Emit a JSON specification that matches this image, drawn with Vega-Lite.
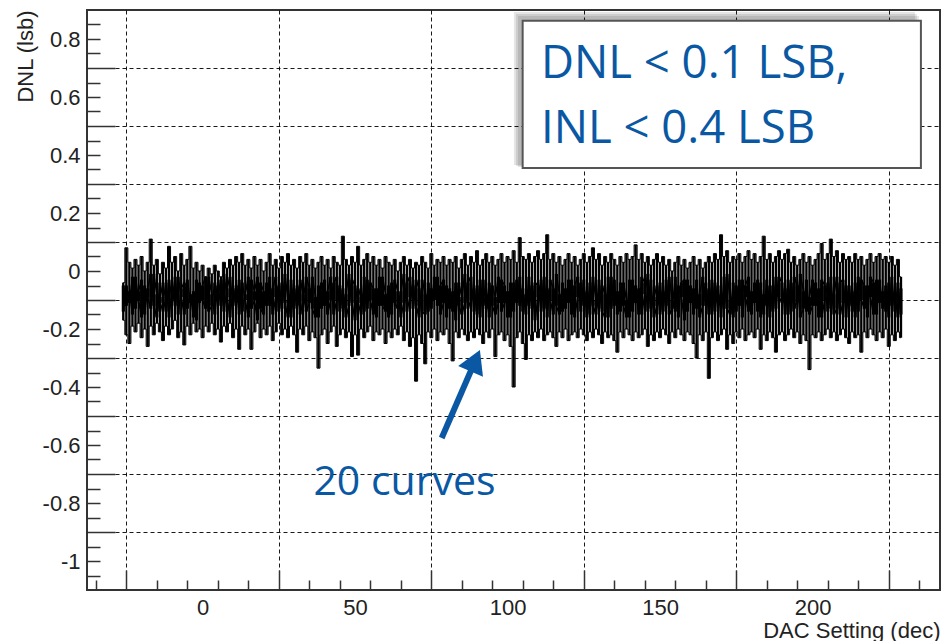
{
"$schema": "https://vega.github.io/schema/vega-lite/v6.json",
"width": 853, "height": 580, "autosize": "none",
"padding": {"left": 87, "top": 10, "right": 6, "bottom": 51},
"background": "white",
"config": {"view": {"stroke": "#333", "strokeWidth": 2}},
"datasets": {
"env": [
{"x":-26,"h":-0.04,"l":-0.17,"a":-0.05,"b":-0.14},
{"x":-25,"h":0.08,"l":-0.22,"a":-0.12,"b":-0.05},
{"x":-24,"h":0.03,"l":-0.25,"a":-0.07,"b":-0.11},
{"x":-23,"h":0.01,"l":-0.19,"a":-0.15,"b":-0.02},
{"x":-22,"h":0.04,"l":-0.21,"a":-0.02,"b":-0.13},
{"x":-21,"h":0.02,"l":-0.18,"a":-0.10,"b":-0.07},
{"x":-20,"h":0.05,"l":-0.23,"a":-0.16,"b":-0.03},
{"x":-19,"h":0.0,"l":-0.20,"a":-0.05,"b":-0.15},
{"x":-18,"h":0.03,"l":-0.26,"a":-0.09,"b":-0.06},
{"x":-17,"h":0.11,"l":-0.19,"a":-0.13,"b":-0.01},
{"x":-16,"h":0.02,"l":-0.22,"a":-0.01,"b":-0.12},
{"x":-15,"h":0.04,"l":-0.18,"a":-0.08,"b":-0.16},
{"x":-14,"h":-0.01,"l":-0.21,"a":-0.14,"b":-0.04},
{"x":-13,"h":0.03,"l":-0.24,"a":-0.11,"b":-0.09},
{"x":-12,"h":0.01,"l":-0.19,"a":-0.04,"b":-0.14},
{"x":-11,"h":0.085,"l":-0.22,"a":-0.16,"b":-0.03},
{"x":-10,"h":0.03,"l":-0.20,"a":-0.06,"b":-0.10},
{"x":-9,"h":0.05,"l":-0.17,"a":-0.12,"b":-0.02},
{"x":-8,"h":0.0,"l":-0.23,"a":-0.02,"b":-0.15},
{"x":-7,"h":0.06,"l":-0.21,"a":-0.09,"b":-0.06},
{"x":-6,"h":0.02,"l":-0.255,"a":-0.15,"b":-0.04},
{"x":-5,"h":0.04,"l":-0.19,"a":-0.03,"b":-0.13},
{"x":-4,"h":0.085,"l":-0.22,"a":-0.11,"b":-0.08},
{"x":-3,"h":0.01,"l":-0.18,"a":-0.07,"b":-0.16},
{"x":-2,"h":0.03,"l":-0.21,"a":-0.17,"b":-0.03},
{"x":-1,"h":0.0,"l":-0.20,"a":-0.04,"b":-0.11},
{"x":0,"h":0.02,"l":-0.23,"a":-0.10,"b":-0.05},
{"x":1,"h":-0.02,"l":-0.19,"a":-0.13,"b":-0.02},
{"x":2,"h":0.01,"l":-0.21,"a":-0.02,"b":-0.14},
{"x":3,"h":-0.01,"l":-0.18,"a":-0.08,"b":-0.12},
{"x":4,"h":0.02,"l":-0.22,"a":-0.15,"b":-0.04},
{"x":5,"h":0.0,"l":-0.20,"a":-0.05,"b":-0.09},
{"x":6,"h":-0.02,"l":-0.245,"a":-0.12,"b":-0.03},
{"x":7,"h":0.03,"l":-0.19,"a":-0.01,"b":-0.14},
{"x":8,"h":0.01,"l":-0.21,"a":-0.09,"b":-0.06},
{"x":9,"h":0.04,"l":-0.18,"a":-0.16,"b":-0.02},
{"x":10,"h":0.02,"l":-0.23,"a":-0.06,"b":-0.12},
{"x":11,"h":0.05,"l":-0.20,"a":-0.11,"b":-0.05},
{"x":12,"h":0.03,"l":-0.27,"a":-0.03,"b":-0.15},
{"x":13,"h":0.06,"l":-0.19,"a":-0.14,"b":-0.04},
{"x":14,"h":0.02,"l":-0.22,"a":-0.08,"b":-0.10},
{"x":15,"h":0.04,"l":-0.20,"a":-0.02,"b":-0.16},
{"x":16,"h":0.01,"l":-0.27,"a":-0.13,"b":-0.03},
{"x":17,"h":0.05,"l":-0.21,"a":-0.10,"b":-0.07},
{"x":18,"h":0.02,"l":-0.18,"a":-0.17,"b":-0.02},
{"x":19,"h":0.04,"l":-0.23,"a":-0.04,"b":-0.13},
{"x":20,"h":0.0,"l":-0.20,"a":-0.07,"b":-0.15},
{"x":21,"h":0.03,"l":-0.22,"a":-0.12,"b":-0.04},
{"x":22,"h":0.06,"l":-0.19,"a":-0.02,"b":-0.12},
{"x":23,"h":0.02,"l":-0.24,"a":-0.15,"b":-0.06},
{"x":24,"h":0.04,"l":-0.21,"a":-0.09,"b":-0.02},
{"x":25,"h":0.01,"l":-0.18,"a":-0.05,"b":-0.14},
{"x":26,"h":0.05,"l":-0.22,"a":-0.13,"b":-0.04},
{"x":27,"h":0.03,"l":-0.20,"a":-0.01,"b":-0.11},
{"x":28,"h":0.06,"l":-0.23,"a":-0.10,"b":-0.16},
{"x":29,"h":0.02,"l":-0.19,"a":-0.16,"b":-0.03},
{"x":30,"h":0.04,"l":-0.22,"a":-0.06,"b":-0.13},
{"x":31,"h":0.01,"l":-0.28,"a":-0.12,"b":-0.05},
{"x":32,"h":0.05,"l":-0.20,"a":-0.03,"b":-0.15},
{"x":33,"h":0.03,"l":-0.22,"a":-0.08,"b":-0.10},
{"x":34,"h":0.06,"l":-0.19,"a":-0.14,"b":-0.02},
{"x":35,"h":0.02,"l":-0.24,"a":-0.11,"b":-0.06},
{"x":36,"h":0.04,"l":-0.21,"a":-0.02,"b":-0.13},
{"x":37,"h":0.01,"l":-0.23,"a":-0.09,"b":-0.16},
{"x":38,"h":0.03,"l":-0.335,"a":-0.16,"b":-0.05},
{"x":39,"h":0.05,"l":-0.22,"a":-0.04,"b":-0.13},
{"x":40,"h":0.02,"l":-0.20,"a":-0.12,"b":-0.03},
{"x":41,"h":0.04,"l":-0.25,"a":-0.07,"b":-0.15},
{"x":42,"h":0.01,"l":-0.21,"a":-0.02,"b":-0.10},
{"x":43,"h":0.05,"l":-0.19,"a":-0.15,"b":-0.04},
{"x":44,"h":0.03,"l":-0.26,"a":-0.10,"b":-0.02},
{"x":45,"h":0.02,"l":-0.22,"a":-0.05,"b":-0.14},
{"x":46,"h":0.12,"l":-0.20,"a":-0.13,"b":-0.06},
{"x":47,"h":0.04,"l":-0.23,"a":-0.08,"b":-0.16},
{"x":48,"h":0.02,"l":-0.21,"a":-0.01,"b":-0.12},
{"x":49,"h":0.05,"l":-0.295,"a":-0.11,"b":-0.03},
{"x":50,"h":0.03,"l":-0.22,"a":-0.17,"b":-0.05},
{"x":51,"h":0.085,"l":-0.29,"a":-0.06,"b":-0.11},
{"x":52,"h":0.02,"l":-0.20,"a":-0.09,"b":-0.15},
{"x":53,"h":0.04,"l":-0.23,"a":-0.14,"b":-0.02},
{"x":54,"h":0.06,"l":-0.21,"a":-0.03,"b":-0.13},
{"x":55,"h":0.03,"l":-0.19,"a":-0.10,"b":-0.04},
{"x":56,"h":0.05,"l":-0.24,"a":-0.15,"b":-0.06},
{"x":57,"h":0.02,"l":-0.21,"a":-0.06,"b":-0.16},
{"x":58,"h":0.04,"l":-0.22,"a":-0.12,"b":-0.02},
{"x":59,"h":0.01,"l":-0.20,"a":-0.02,"b":-0.12},
{"x":60,"h":0.05,"l":-0.25,"a":-0.08,"b":-0.14},
{"x":61,"h":0.03,"l":-0.21,"a":-0.16,"b":-0.05},
{"x":62,"h":0.02,"l":-0.23,"a":-0.04,"b":-0.15},
{"x":63,"h":0.04,"l":-0.20,"a":-0.11,"b":-0.03},
{"x":64,"h":0.0,"l":-0.22,"a":-0.13,"b":-0.07},
{"x":65,"h":0.03,"l":-0.19,"a":-0.07,"b":-0.16},
{"x":66,"h":0.05,"l":-0.24,"a":-0.01,"b":-0.11},
{"x":67,"h":0.02,"l":-0.21,"a":-0.14,"b":-0.04},
{"x":68,"h":0.04,"l":-0.26,"a":-0.09,"b":-0.02},
{"x":69,"h":0.01,"l":-0.23,"a":-0.05,"b":-0.13},
{"x":70,"h":0.03,"l":-0.38,"a":-0.12,"b":-0.03},
{"x":71,"h":0.02,"l":-0.22,"a":-0.16,"b":-0.06},
{"x":72,"h":0.05,"l":-0.25,"a":-0.03,"b":-0.14},
{"x":73,"h":0.03,"l":-0.32,"a":-0.08,"b":-0.15},
{"x":74,"h":0.01,"l":-0.21,"a":-0.14,"b":-0.04},
{"x":75,"h":0.06,"l":-0.23,"a":-0.06,"b":-0.13},
{"x":76,"h":0.02,"l":-0.20,"a":-0.10,"b":-0.02},
{"x":77,"h":0.04,"l":-0.24,"a":-0.02,"b":-0.12},
{"x":78,"h":0.03,"l":-0.21,"a":-0.15,"b":-0.05},
{"x":79,"h":0.05,"l":-0.22,"a":-0.11,"b":-0.03},
{"x":80,"h":0.02,"l":-0.20,"a":-0.05,"b":-0.16},
{"x":81,"h":0.04,"l":-0.25,"a":-0.13,"b":-0.06},
{"x":82,"h":0.03,"l":-0.31,"a":-0.07,"b":-0.14},
{"x":83,"h":0.05,"l":-0.21,"a":-0.17,"b":-0.04},
{"x":84,"h":0.01,"l":-0.23,"a":-0.04,"b":-0.12},
{"x":85,"h":0.04,"l":-0.20,"a":-0.09,"b":-0.15},
{"x":86,"h":0.06,"l":-0.22,"a":-0.01,"b":-0.11},
{"x":87,"h":0.02,"l":-0.24,"a":-0.13,"b":-0.04},
{"x":88,"h":0.05,"l":-0.21,"a":-0.10,"b":-0.02},
{"x":89,"h":0.03,"l":-0.23,"a":-0.06,"b":-0.14},
{"x":90,"h":0.07,"l":-0.20,"a":-0.15,"b":-0.05},
{"x":91,"h":0.02,"l":-0.22,"a":-0.03,"b":-0.16},
{"x":92,"h":0.04,"l":-0.25,"a":-0.12,"b":-0.03},
{"x":93,"h":0.06,"l":-0.21,"a":-0.08,"b":-0.13},
{"x":94,"h":0.03,"l":-0.23,"a":-0.16,"b":-0.04},
{"x":95,"h":0.05,"l":-0.20,"a":-0.05,"b":-0.12},
{"x":96,"h":0.02,"l":-0.295,"a":-0.09,"b":-0.15},
{"x":97,"h":0.04,"l":-0.22,"a":-0.02,"b":-0.11},
{"x":98,"h":0.06,"l":-0.21,"a":-0.14,"b":-0.03},
{"x":99,"h":0.03,"l":-0.24,"a":-0.11,"b":-0.05},
{"x":100,"h":0.05,"l":-0.22,"a":-0.07,"b":-0.16},
{"x":101,"h":0.04,"l":-0.26,"a":-0.16,"b":-0.04},
{"x":102,"h":0.07,"l":-0.40,"a":-0.04,"b":-0.14},
{"x":103,"h":0.03,"l":-0.23,"a":-0.11,"b":-0.03},
{"x":104,"h":0.115,"l":-0.21,"a":-0.02,"b":-0.12},
{"x":105,"h":0.05,"l":-0.25,"a":-0.14,"b":-0.06},
{"x":106,"h":0.04,"l":-0.305,"a":-0.08,"b":-0.15},
{"x":107,"h":0.06,"l":-0.22,"a":-0.12,"b":-0.02},
{"x":108,"h":0.03,"l":-0.24,"a":-0.05,"b":-0.13},
{"x":109,"h":0.05,"l":-0.21,"a":-0.17,"b":-0.04},
{"x":110,"h":0.07,"l":-0.23,"a":-0.09,"b":-0.05},
{"x":111,"h":0.04,"l":-0.20,"a":-0.03,"b":-0.14},
{"x":112,"h":0.06,"l":-0.24,"a":-0.13,"b":-0.02},
{"x":113,"h":0.125,"l":-0.22,"a":-0.06,"b":-0.16},
{"x":114,"h":0.04,"l":-0.21,"a":-0.10,"b":-0.03},
{"x":115,"h":0.06,"l":-0.23,"a":-0.15,"b":-0.06},
{"x":116,"h":0.03,"l":-0.26,"a":-0.01,"b":-0.12},
{"x":117,"h":0.05,"l":-0.21,"a":-0.08,"b":-0.15},
{"x":118,"h":0.02,"l":-0.23,"a":-0.14,"b":-0.04},
{"x":119,"h":0.04,"l":-0.20,"a":-0.06,"b":-0.13},
{"x":120,"h":0.06,"l":-0.24,"a":-0.11,"b":-0.03},
{"x":121,"h":0.03,"l":-0.22,"a":-0.03,"b":-0.15},
{"x":122,"h":0.05,"l":-0.21,"a":-0.16,"b":-0.05},
{"x":123,"h":0.02,"l":-0.23,"a":-0.09,"b":-0.02},
{"x":124,"h":0.04,"l":-0.20,"a":-0.04,"b":-0.14},
{"x":125,"h":0.06,"l":-0.22,"a":-0.12,"b":-0.03},
{"x":126,"h":0.03,"l":-0.24,"a":-0.07,"b":-0.16},
{"x":127,"h":0.05,"l":-0.21,"a":-0.15,"b":-0.04},
{"x":128,"h":0.08,"l":-0.23,"a":-0.02,"b":-0.12},
{"x":129,"h":0.04,"l":-0.20,"a":-0.10,"b":-0.15},
{"x":130,"h":0.06,"l":-0.22,"a":-0.13,"b":-0.03},
{"x":131,"h":0.02,"l":-0.25,"a":-0.05,"b":-0.14},
{"x":132,"h":0.05,"l":-0.21,"a":-0.08,"b":-0.16},
{"x":133,"h":0.03,"l":-0.23,"a":-0.16,"b":-0.02},
{"x":134,"h":0.06,"l":-0.22,"a":-0.02,"b":-0.13},
{"x":135,"h":0.04,"l":-0.24,"a":-0.12,"b":-0.03},
{"x":136,"h":0.02,"l":-0.28,"a":-0.07,"b":-0.15},
{"x":137,"h":0.05,"l":-0.21,"a":-0.14,"b":-0.04},
{"x":138,"h":0.03,"l":-0.23,"a":-0.04,"b":-0.12},
{"x":139,"h":0.06,"l":-0.20,"a":-0.10,"b":-0.16},
{"x":140,"h":0.04,"l":-0.22,"a":-0.16,"b":-0.03},
{"x":141,"h":0.05,"l":-0.24,"a":-0.03,"b":-0.14},
{"x":142,"h":0.09,"l":-0.21,"a":-0.11,"b":-0.05},
{"x":143,"h":0.04,"l":-0.23,"a":-0.06,"b":-0.15},
{"x":144,"h":0.06,"l":-0.22,"a":-0.15,"b":-0.02},
{"x":145,"h":0.03,"l":-0.20,"a":-0.08,"b":-0.04},
{"x":146,"h":0.05,"l":-0.26,"a":-0.01,"b":-0.14},
{"x":147,"h":0.02,"l":-0.22,"a":-0.13,"b":-0.03},
{"x":148,"h":0.04,"l":-0.24,"a":-0.09,"b":-0.16},
{"x":149,"h":0.06,"l":-0.21,"a":-0.05,"b":-0.12},
{"x":150,"h":0.03,"l":-0.23,"a":-0.15,"b":-0.04},
{"x":151,"h":0.05,"l":-0.20,"a":-0.07,"b":-0.14},
{"x":152,"h":0.02,"l":-0.22,"a":-0.12,"b":-0.03},
{"x":153,"h":0.04,"l":-0.25,"a":-0.02,"b":-0.15},
{"x":154,"h":0.0,"l":-0.21,"a":-0.10,"b":-0.13},
{"x":155,"h":0.03,"l":-0.23,"a":-0.14,"b":-0.02},
{"x":156,"h":0.05,"l":-0.20,"a":-0.05,"b":-0.16},
{"x":157,"h":0.02,"l":-0.22,"a":-0.09,"b":-0.04},
{"x":158,"h":0.04,"l":-0.24,"a":-0.17,"b":-0.03},
{"x":159,"h":0.01,"l":-0.21,"a":-0.03,"b":-0.14},
{"x":160,"h":0.03,"l":-0.22,"a":-0.11,"b":-0.05},
{"x":161,"h":0.05,"l":-0.25,"a":-0.06,"b":-0.15},
{"x":162,"h":0.02,"l":-0.30,"a":-0.13,"b":-0.03},
{"x":163,"h":0.04,"l":-0.22,"a":-0.08,"b":-0.16},
{"x":164,"h":0.01,"l":-0.24,"a":-0.02,"b":-0.12},
{"x":165,"h":0.03,"l":-0.21,"a":-0.12,"b":-0.04},
{"x":166,"h":0.05,"l":-0.37,"a":-0.06,"b":-0.15},
{"x":167,"h":0.03,"l":-0.23,"a":-0.15,"b":-0.03},
{"x":168,"h":0.06,"l":-0.21,"a":-0.04,"b":-0.14},
{"x":169,"h":0.04,"l":-0.24,"a":-0.11,"b":-0.05},
{"x":170,"h":0.125,"l":-0.22,"a":-0.08,"b":-0.16},
{"x":171,"h":0.05,"l":-0.20,"a":-0.13,"b":-0.02},
{"x":172,"h":0.07,"l":-0.27,"a":-0.01,"b":-0.13},
{"x":173,"h":0.03,"l":-0.22,"a":-0.10,"b":-0.15},
{"x":174,"h":0.05,"l":-0.25,"a":-0.16,"b":-0.04},
{"x":175,"h":0.04,"l":-0.21,"a":-0.05,"b":-0.14},
{"x":176,"h":0.06,"l":-0.23,"a":-0.12,"b":-0.03},
{"x":177,"h":0.03,"l":-0.20,"a":-0.03,"b":-0.16},
{"x":178,"h":0.05,"l":-0.24,"a":-0.09,"b":-0.05},
{"x":179,"h":0.07,"l":-0.22,"a":-0.14,"b":-0.02},
{"x":180,"h":0.04,"l":-0.21,"a":-0.07,"b":-0.15},
{"x":181,"h":0.06,"l":-0.23,"a":-0.11,"b":-0.04},
{"x":182,"h":0.03,"l":-0.20,"a":-0.03,"b":-0.14},
{"x":183,"h":0.05,"l":-0.27,"a":-0.16,"b":-0.04},
{"x":184,"h":0.12,"l":-0.22,"a":-0.08,"b":-0.15},
{"x":185,"h":0.04,"l":-0.24,"a":-0.12,"b":-0.03},
{"x":186,"h":0.06,"l":-0.21,"a":-0.05,"b":-0.16},
{"x":187,"h":0.03,"l":-0.23,"a":-0.14,"b":-0.05},
{"x":188,"h":0.05,"l":-0.28,"a":-0.02,"b":-0.13},
{"x":189,"h":0.07,"l":-0.22,"a":-0.09,"b":-0.02},
{"x":190,"h":0.04,"l":-0.21,"a":-0.11,"b":-0.04},
{"x":191,"h":0.06,"l":-0.24,"a":-0.06,"b":-0.15},
{"x":192,"h":0.075,"l":-0.22,"a":-0.15,"b":-0.03},
{"x":193,"h":0.03,"l":-0.20,"a":-0.04,"b":-0.14},
{"x":194,"h":0.05,"l":-0.23,"a":-0.13,"b":-0.02},
{"x":195,"h":0.02,"l":-0.21,"a":-0.10,"b":-0.05},
{"x":196,"h":0.04,"l":-0.25,"a":-0.01,"b":-0.16},
{"x":197,"h":0.06,"l":-0.22,"a":-0.07,"b":-0.13},
{"x":198,"h":0.03,"l":-0.24,"a":-0.14,"b":-0.03},
{"x":199,"h":0.05,"l":-0.34,"a":-0.09,"b":-0.15},
{"x":200,"h":0.02,"l":-0.22,"a":-0.03,"b":-0.12},
{"x":201,"h":0.04,"l":-0.23,"a":-0.12,"b":-0.04},
{"x":202,"h":0.06,"l":-0.21,"a":-0.06,"b":-0.16},
{"x":203,"h":0.095,"l":-0.24,"a":-0.16,"b":-0.03},
{"x":204,"h":0.04,"l":-0.22,"a":-0.10,"b":-0.05},
{"x":205,"h":0.06,"l":-0.20,"a":-0.04,"b":-0.14},
{"x":206,"h":0.11,"l":-0.23,"a":-0.13,"b":-0.02},
{"x":207,"h":0.05,"l":-0.21,"a":-0.08,"b":-0.15},
{"x":208,"h":0.07,"l":-0.24,"a":-0.02,"b":-0.13},
{"x":209,"h":0.03,"l":-0.22,"a":-0.15,"b":-0.04},
{"x":210,"h":0.06,"l":-0.20,"a":-0.11,"b":-0.03},
{"x":211,"h":0.04,"l":-0.23,"a":-0.05,"b":-0.16},
{"x":212,"h":0.05,"l":-0.25,"a":-0.12,"b":-0.05},
{"x":213,"h":0.03,"l":-0.21,"a":-0.07,"b":-0.14},
{"x":214,"h":0.06,"l":-0.23,"a":-0.16,"b":-0.04},
{"x":215,"h":0.04,"l":-0.22,"a":-0.02,"b":-0.14},
{"x":216,"h":0.05,"l":-0.28,"a":-0.10,"b":-0.03},
{"x":217,"h":0.02,"l":-0.21,"a":-0.13,"b":-0.05},
{"x":218,"h":0.04,"l":-0.23,"a":-0.05,"b":-0.16},
{"x":219,"h":0.06,"l":-0.20,"a":-0.09,"b":-0.02},
{"x":220,"h":0.03,"l":-0.22,"a":-0.15,"b":-0.04},
{"x":221,"h":0.05,"l":-0.24,"a":-0.03,"b":-0.15},
{"x":222,"h":0.06,"l":-0.21,"a":-0.11,"b":-0.03},
{"x":223,"h":0.04,"l":-0.23,"a":-0.07,"b":-0.13},
{"x":224,"h":0.05,"l":-0.20,"a":-0.14,"b":-0.05},
{"x":225,"h":0.03,"l":-0.26,"a":-0.04,"b":-0.16},
{"x":226,"h":0.05,"l":-0.22,"a":-0.12,"b":-0.02},
{"x":227,"h":0.02,"l":-0.24,"a":-0.08,"b":-0.14},
{"x":228,"h":0.04,"l":-0.21,"a":-0.16,"b":-0.04},
{"x":229,"h":-0.02,"l":-0.23,"a":-0.06,"b":-0.15}
],
"shadow": [
{"x1":102.1,"x2":233.58,"y1":0.8931,"y2":0.3655},
{"x1":102.75,"x2":234.24,"y1":0.8862,"y2":0.3621},
{"x1":103.41,"x2":234.9,"y1":0.8793,"y2":0.3586}
],
"box": [{"x1":104.95,"x2":235.54,"y1":0.8631,"y2":0.3552}],
"boxtext": [
{"x":110.95,"y":0.6655,"t":"DNL < 0.1 LSB,"},
{"x":110.95,"y":0.4414,"t":"INL < 0.4 LSB"}
],
"note": [{"x":36.33,"y":-0.7724,"t":"20 curves"}],
"arrow": [{"x1":78.4,"y1":-0.5759,"x2":89.41,"y2":-0.3093}]
},
"layer": [
{
"data": {"name": "env"},
"mark": {"type": "rule", "color": "#000", "strokeWidth": 2.4},
"encoding": {
"x": {"field": "x", "type": "quantitative",
 "scale": {"domain": [-37.9, 241.8], "nice": false, "zero": false},
 "axis": {"orient": "bottom", "values": [-25,25,75,125,175,225], "labels": false, "domain": false, "ticks": true, "tickSize": -20, "tickColor": "#333", "tickWidth": 1.5, "grid": true, "gridColor": "#000", "gridDash": [4,3], "gridWidth": 1, "gridOpacity": 0.9, "title": null}},
"y": {"field": "l", "type": "quantitative",
 "scale": {"domain": [-1.1, 0.9], "nice": false, "zero": false},
 "axis": {"orient": "left", "values": [0.7,0.5,0.3,0.1,-0.1,-0.3,-0.5,-0.7,-0.9], "labels": false, "domain": false, "ticks": true, "tickSize": -28, "tickColor": "#333", "tickWidth": 1.5, "grid": true, "gridColor": "#000", "gridDash": [4,3], "gridWidth": 1, "gridOpacity": 0.9, "title": null}},
"y2": {"field": "h"}
}
},
{
"data": {"name": "env"},
"mark": {"type": "rule", "color": "#000", "strokeWidth": 3.1},
"encoding": {
"x": {"field": "x", "type": "quantitative", "scale": {"domain": [-37.9, 241.8], "nice": false, "zero": false}, "axis": null},
"y": {"field": "a", "type": "quantitative", "scale": {"domain": [-1.1, 0.9], "nice": false, "zero": false}, "axis": null},
"y2": {"field": "b"}
}
},
{
"data": {"name": "env"},
"transform": [{"fold": ["a", "b"], "as": ["k", "v"]}],
"mark": {"type": "line", "interpolate": "linear", "color": "#000", "strokeWidth": 1.5},
"encoding": {
"x": {"field": "x", "type": "quantitative",
 "scale": {"domain": [-37.9, 241.8], "nice": false, "zero": false},
 "axis": {"orient": "bottom", "values": [-35,-15,-5,5,15,35,45,55,65,85,95,105,115,135,145,155,165,185,195,205,215,235], "labels": false, "domain": false, "ticks": true, "tickSize": -10, "tickColor": "#333", "tickWidth": 1.5, "grid": false, "title": null}},
"y": {"field": "v", "type": "quantitative",
 "scale": {"domain": [-1.1, 0.9], "nice": false, "zero": false},
 "axis": {"orient": "left", "values": [0.85,0.8,0.75,0.65,0.6,0.55,0.45,0.4,0.35,0.25,0.2,0.15,0.05,0,-0.05,-0.15,-0.2,-0.25,-0.35,-0.4,-0.45,-0.55,-0.6,-0.65,-0.75,-0.8,-0.85,-0.95,-1,-1.05], "labels": false, "domain": false, "ticks": true, "tickSize": -13, "tickColor": "#333", "tickWidth": 1.5, "grid": false, "title": null}},
"detail": {"field": "k"}
}
},
{
"data": {"name": "env"},
"transform": [{"fold": ["h", "l"], "as": ["k", "v"]}],
"mark": {"type": "line", "interpolate": "step", "color": "#000", "strokeWidth": 1},
"encoding": {
"x": {"field": "x", "type": "quantitative",
 "scale": {"domain": [-37.9, 241.8], "nice": false, "zero": false},
 "axis": {"orient": "bottom", "values": [0,50,100,150,200], "ticks": false, "domain": false, "grid": false, "labelPadding": 7, "labelFont": "Liberation Sans", "labelFontSize": 22, "labelColor": "#222", "labelExpr": "'' + datum.value",
  "title": "DAC Setting (dec)", "titleFont": "Liberation Sans", "titleFontSize": 22, "titleFontWeight": "normal", "titleColor": "#222", "titleX": 853, "titleY": 47, "titleAlign": "right", "titleBaseline": "alphabetic", "titleAnchor": "end"}},
"y": {"field": "v", "type": "quantitative",
 "scale": {"domain": [-1.1, 0.9], "nice": false, "zero": false},
 "axis": {"orient": "left", "values": [0.8,0.6,0.4,0.2,0,-0.2,-0.4,-0.6,-0.8,-1], "ticks": false, "domain": false, "grid": false, "labelPadding": 7, "labelFont": "Liberation Sans", "labelFontSize": 22, "labelColor": "#222", "labelExpr": "'' + datum.value",
  "title": "DNL (lsb)", "titleFont": "Liberation Sans", "titleFontSize": 22, "titleFontWeight": "normal", "titleColor": "#222", "titleX": -62, "titleY": 0, "titleAngle": -90, "titleAlign": "right", "titleBaseline": "middle", "titleAnchor": "end"}},
"detail": {"field": "k"}
}
},
{
"data": {"name": "shadow"},
"mark": {"type": "rect", "color": "#000", "opacity": 0.1},
"encoding": {
"x": {"field": "x1", "type": "quantitative", "scale": {"domain": [-37.9, 241.8], "nice": false, "zero": false}, "axis": null},
"x2": {"field": "x2"},
"y": {"field": "y1", "type": "quantitative", "scale": {"domain": [-1.1, 0.9], "nice": false, "zero": false}, "axis": null},
"y2": {"field": "y2"}
}
},
{
"data": {"name": "box"},
"mark": {"type": "rect", "fill": "#fff", "stroke": "#555", "strokeWidth": 2},
"encoding": {
"x": {"field": "x1", "type": "quantitative", "scale": {"domain": [-37.9, 241.8], "nice": false, "zero": false}, "axis": null},
"x2": {"field": "x2"},
"y": {"field": "y1", "type": "quantitative", "scale": {"domain": [-1.1, 0.9], "nice": false, "zero": false}, "axis": null},
"y2": {"field": "y2"}
}
},
{
"data": {"name": "boxtext"},
"mark": {"type": "text", "font": "Open Sans", "fontSize": 45.5, "color": "#0a58a3", "align": "left", "baseline": "alphabetic"},
"encoding": {
"x": {"field": "x", "type": "quantitative", "scale": {"domain": [-37.9, 241.8], "nice": false, "zero": false}, "axis": null},
"y": {"field": "y", "type": "quantitative", "scale": {"domain": [-1.1, 0.9], "nice": false, "zero": false}, "axis": null},
"text": {"field": "t"}
}
},
{
"data": {"name": "note"},
"mark": {"type": "text", "font": "Open Sans", "fontSize": 41, "color": "#0a58a3", "align": "left", "baseline": "alphabetic"},
"encoding": {
"x": {"field": "x", "type": "quantitative", "scale": {"domain": [-37.9, 241.8], "nice": false, "zero": false}, "axis": null},
"y": {"field": "y", "type": "quantitative", "scale": {"domain": [-1.1, 0.9], "nice": false, "zero": false}, "axis": null},
"text": {"field": "t"}
}
},
{
"data": {"name": "arrow"},
"mark": {"type": "rule", "color": "#0a58a3", "strokeWidth": 6},
"encoding": {
"x": {"field": "x1", "type": "quantitative", "scale": {"domain": [-37.9, 241.8], "nice": false, "zero": false}, "axis": null},
"y": {"field": "y1", "type": "quantitative", "scale": {"domain": [-1.1, 0.9], "nice": false, "zero": false}, "axis": null},
"x2": {"field": "x2"},
"y2": {"field": "y2"}
}
},
{
"data": {"name": "arrow"},
"mark": {"type": "point", "shape": "triangle-up", "size": 729, "angle": 23.5, "filled": true, "color": "#0a58a3", "opacity": 1},
"encoding": {
"x": {"field": "x2", "type": "quantitative", "scale": {"domain": [-37.9, 241.8], "nice": false, "zero": false}, "axis": null},
"y": {"field": "y2", "type": "quantitative", "scale": {"domain": [-1.1, 0.9], "nice": false, "zero": false}, "axis": null}
}
}
],
"resolve": {"axis": {"x": "independent", "y": "independent"}}
}
